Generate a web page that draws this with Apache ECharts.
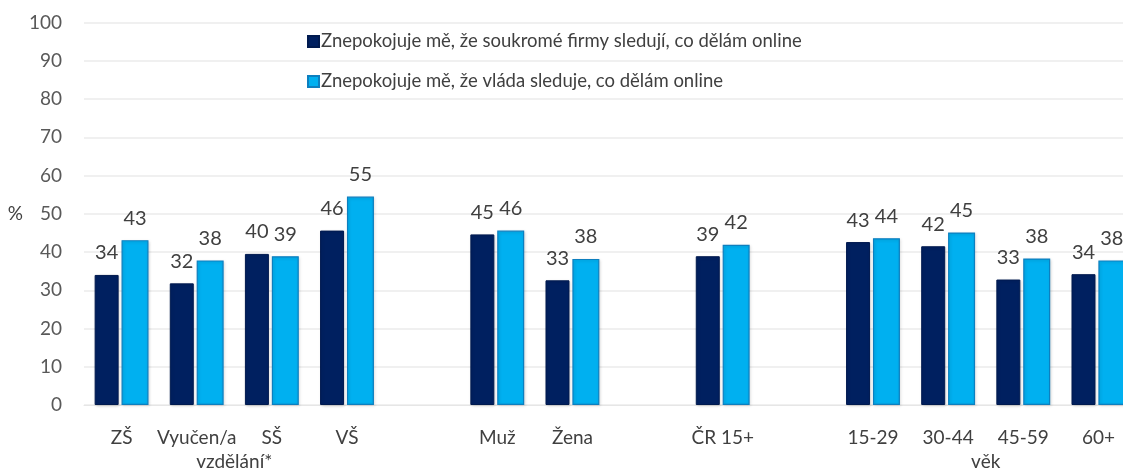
<!DOCTYPE html>
<html><head><meta charset="utf-8">
<script src="https://cdn.jsdelivr.net/npm/echarts@6/dist/echarts.min.js"></script>
<style>html,body{margin:0;padding:0;background:#fff;overflow:hidden}#c{width:1140px;height:473px}</style>
</head><body><div id="c"></div>
<script>
const categories = ['ZŠ','Vyučen/a','SŠ','VŠ','','Muž','Žena','','ČR 15+','','15-29','30-44','45-59','60+'];
const groupLabels = ['','','vzdělání*','','','','','','','','','','věk','',''];
const seriesNames = ['Znepokojuje mě, že soukromé firmy sledují, co dělám online','Znepokojuje mě, že vláda sleduje, co dělám online'];
const firmy = [34.0, 31.8, 39.5, 45.6, null, 44.6, 32.6, null, 38.9, null, 42.6, 41.5, 32.8, 34.2];
const vlada = [43.1, 37.8, 38.9, 54.5, null, 45.6, 38.2, null, 41.9, null, 43.6, 45.1, 38.3, 37.8];
const yTicks = {min:0, max:100, interval:10};

const FONT = 'Lato';
const chart = echarts.init(document.getElementById('c'));
const lbl = {show:true, position:'top', distance:12, fontFamily:FONT, fontSize:20, color:'#404040',
  formatter: p => Math.round(p.value)};
chart.setOption({
  animation:false,
  textStyle:{fontFamily:FONT},
  grid:{left:84, right:4, top:22.5, bottom:68, containLabel:false},
  legend:{orient:'vertical', left:302, top:27, itemWidth:11, itemHeight:11, itemGap:21,
    icon:'rect', textStyle:{fontFamily:FONT, fontSize:18.5, color:'#404040', padding:[0,0,0,-3]},
    data:seriesNames},
  xAxis:[{type:'category', data:categories, axisTick:{show:false},
    axisLine:{lineStyle:{color:'#e6e6e6'}},
    axisLabel:{interval:0, margin:23, fontFamily:FONT, fontSize:19, color:'#404040'}},
   {type:'category', data:groupLabels, position:'bottom', offset:24, boundaryGap:false,
    axisTick:{show:false}, axisLine:{show:false}, splitLine:{show:false},
    axisLabel:{interval:0, margin:23, fontFamily:FONT, fontSize:19, color:'#404040'}}],
  yAxis:{type:'value', min:yTicks.min, max:yTicks.max, interval:yTicks.interval,
    name:'%', nameLocation:'middle', nameGap:55, nameRotate:0,
    nameTextStyle:{fontFamily:FONT, fontSize:19, color:'#404040'},
    axisLine:{show:false}, axisTick:{show:false},
    axisLabel:{margin:22, fontFamily:FONT, fontSize:19, color:'#595959'},
    splitLine:{lineStyle:{color:'#ebebeb', width:1.5}}},
  series:[
    {name:seriesNames[0], type:'bar', data:firmy, barWidth:24, barGap:'12%',
     itemStyle:{color:'#002060', borderColor:'#001a4f', borderWidth:1, shadowColor:'rgba(0,0,0,0.15)', shadowBlur:3, shadowOffsetX:1, shadowOffsetY:1},
     label:lbl},
    {name:seriesNames[1], type:'bar', data:vlada, barWidth:27,
     itemStyle:{color:'#00b0f0', borderColor:'#0d7fbf', borderWidth:1.2, shadowColor:'rgba(0,0,0,0.15)', shadowBlur:3, shadowOffsetX:1, shadowOffsetY:1},
     label:lbl}
  ]
});
</script></body></html>
